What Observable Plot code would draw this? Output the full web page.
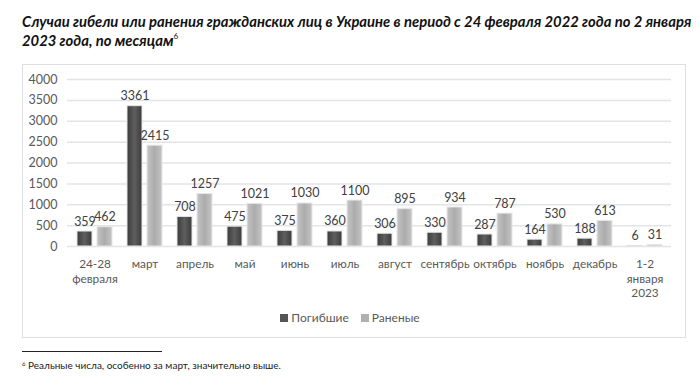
<!DOCTYPE html>
<html>
<head>
<meta charset="utf-8">
<script src="https://cdn.jsdelivr.net/npm/d3@7"></script>
<script src="https://cdn.jsdelivr.net/npm/@observablehq/plot@0.6"></script>
<style>
  body { margin: 0; background: #fff; }
  #wrap { position: relative; width: 700px; height: 381px; overflow: hidden; font-family: Lato, "Open Sans", sans-serif; }
  #title { position: absolute; left: 22px; top: 12px; width: 670px; font-weight: bold; font-style: italic; font-size: 14.8px; line-height: 19px; color: #111; white-space: nowrap; }
  #title sup { font-size: 8px; font-weight: normal; font-style: normal; vertical-align: 7px; line-height: 0; }
  #frame { position: absolute; left: 22px; top: 64px; width: 662px; height: 272px; border: 1px solid #dcdfe4; }
  #chart { position: absolute; left: 0; top: 60px; }
  #legend { position: absolute; left: 0; width: 700px; top: 310px; text-align: center; font-size: 12px; color: #595959; }
  #legend span.sw { display: inline-block; width: 8px; height: 8px; margin-right: 3px; vertical-align: 0px; }
  #legend span.item { margin: 0 6px; }
  #rule { position: absolute; left: 22px; top: 351px; width: 140px; border-top: 1px solid #222; }
  #note { position: absolute; left: 22px; top: 359px; font-size: 10px; color: #222; }
  #note sup { font-size: 6px; vertical-align: 3px; }
</style>
</head>
<body>
<div id="wrap">
  <div id="title">Случаи гибели или ранения гражданских лиц в Украине в период с 24 февраля 2022 года по 2 января<br>2023 года, по месяцам<sup>6</sup></div>
  <div id="frame"></div>
  <div id="chart"></div>
  <div id="legend"><span class="item"><span class="sw" style="background:#555"></span>Погибшие</span><span class="item"><span class="sw" style="background:#b0b0b0"></span>Раненые</span></div>
  <div id="rule"></div>
  <div id="note"><sup>6</sup> Реальные числа, особенно за март, значительно выше.</div>
</div>
<script>
const months = ["24-28\nфевраля","март","апрель","май","июнь","июль","август","сентябрь","октябрь","ноябрь","декабрь","1-2\nянваря\n2023"];
const killed = [359,3361,708,475,375,360,306,330,287,164,188,6];
const injured = [462,2415,1257,1021,1030,1100,895,934,787,530,613,31];
const yTicks = [0,500,1000,1500,2000,2500,3000,3500,4000];
const seriesNames = ["Погибшие","Раненые"];

const killedData = months.map((m, i) => ({month: m, value: killed[i], series: seriesNames[0]}));
const injuredData = months.map((m, i) => ({month: m, value: injured[i], series: seriesNames[1]}));

const chart = Plot.plot({
  width: 700,
  height: 250,
  marginTop: 19,
  marginBottom: 64,
  marginLeft: 67,
  marginRight: 29,
  style: {fontFamily: "Lato, 'Open Sans', sans-serif", background: "transparent"},
  x: {domain: months, paddingInner: 0.7, paddingOuter: 0.35, label: null},
  y: {domain: [0, 4000], label: null},
  marks: [
    Plot.ruleY(yTicks, {stroke: "#e2e4e8", strokeWidth: 1.5}),
    Plot.axisY({ticks: yTicks, tickFormat: d => String(d), tickSize: 0, tickPadding: 10, fontSize: 12.5, color: "#595959", label: null}),
    Plot.axisX({tickSize: 0, tickPadding: 11, fontSize: 11.8, color: "#595959", lineHeight: 1.25, label: null}),
    Plot.barY(killedData, {x: "month", y: "value", dx: -10, fill: "#585858", stroke: "#e6e6e6", strokeWidth: 1, className: "killed"}),
    Plot.barY(injuredData, {x: "month", y: "value", dx: 10, fill: "#b0b0b0", stroke: "#e6e6e6", strokeWidth: 1, className: "injured"}),
    Plot.text(killedData, {x: "month", y: "value", dx: -10, dy: -6, text: d => String(d.value), lineAnchor: "bottom", fontSize: 12.5, fill: "#404040"}),
    Plot.text(injuredData, {x: "month", y: "value", dx: 10, dy: -6, text: d => String(d.value), lineAnchor: "bottom", fontSize: 12.5, fill: "#404040"})
  ]
});
document.getElementById("chart").appendChild(chart);

// gradient fills for bars
const ns = "http://www.w3.org/2000/svg";
const defs = document.createElementNS(ns, "defs");
defs.innerHTML = `
  <linearGradient id="gk" x1="0" x2="1" y1="0" y2="0">
    <stop offset="0" stop-color="#3c3c3c"/><stop offset="0.5" stop-color="#5e5e5e"/><stop offset="1" stop-color="#3c3c3c"/>
  </linearGradient>
  <linearGradient id="gi" x1="0" x2="1" y1="0" y2="0">
    <stop offset="0" stop-color="#c4c4c4"/><stop offset="0.5" stop-color="#acacac"/><stop offset="1" stop-color="#c4c4c4"/>
  </linearGradient>`;
chart.insertBefore(defs, chart.firstChild);
chart.querySelectorAll(".killed rect").forEach(r => r.setAttribute("fill", "url(#gk)"));
chart.querySelectorAll(".injured rect").forEach(r => r.setAttribute("fill", "url(#gi)"));
</script>
</body>
</html>
